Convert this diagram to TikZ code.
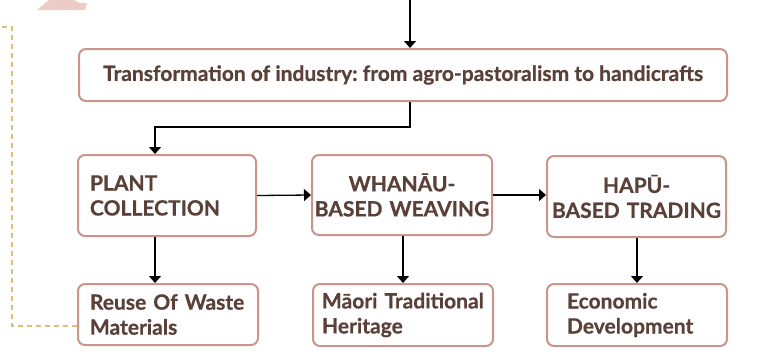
\documentclass[tikz,border=0pt]{standalone}
\usepackage{fontspec}
\setmainfont{Lato}[BoldFeatures={FakeBold=0.6}]
\usetikzlibrary{arrows.meta,calc}
\definecolor{txt}{HTML}{5A4038}
\definecolor{bord}{HTML}{C9958A}
\definecolor{dashc}{HTML}{E0BB80}
\definecolor{blush}{HTML}{EDCCC5}
\frenchspacing
\begin{document}
\begin{tikzpicture}[x=1pt,y=-1pt,
  box/.style={draw=bord, line width=2pt, rounded corners=7pt, fill=white,
    text=txt, font=\fontsize{21}{25}\selectfont\bfseries, inner ysep=0pt},
  arr/.style={draw=black, line width=1.3pt, -{Triangle[width=12pt,length=7pt]}},
  dashline/.style={draw=dashc, line width=1.2pt, dash pattern=on 5pt off 4pt}]
\useasboundingbox (0,0) rectangle (763,360);
\fill[blush] (37,10) -- (44,4) .. controls (47,1) .. (50,0) -- (74,0) .. controls (77,2) .. (80,3) -- (87,3) -- (85,10) -- cycle;

\node[box, minimum width=648pt, minimum height=52pt] (top) at (403,75) {Transformation of industry: from agro-pastoralism to handicrafts};

\node[box, inner xsep=12pt, text width=154pt, align=left, minimum height=81pt] (plant) at (167,195.5) {PLANT\\COLLECTION};
\node[box, inner xsep=1pt, text width=178pt, align=center, minimum height=80pt] (whanau) at (402,195) {WHANĀU-\\BASED WEAVING};
\node[box, inner xsep=1pt, text width=177pt, align=center, minimum height=81pt] (hapu) at (636.5,196.5) {HAPŪ-\\BASED TRADING};

\node[box, inner xsep=12pt, text width=156pt, align=left, minimum height=61pt] (reuse) at (168,314.5) {Reuse Of Waste\\Materials};
\node[box, inner xsep=9pt, text width=162pt, align=left, minimum height=62pt] (maori) at (403,315) {Māori Traditional\\Heritage};
\node[box, inner xsep=20pt, text width=140pt, align=left, minimum height=62pt] (econ) at (637,315) {Economic\\Development};

\coordinate (src) at (410,0);
\coordinate (elbow) at (410,127);
\draw[arr] (src) -- (src |- top.north);
\draw[arr] (src |- top.south) -- (elbow) -| ([xshift=-12pt]plant.north);
\draw[arr] (plant.east) -- (whanau.west);
\draw[arr] (whanau.east) -- (hapu.west |- whanau.east);
\draw[arr] ([xshift=-12pt]plant.south) -- ([xshift=-13pt]reuse.north);
\draw[arr] ([xshift=1pt]whanau.south) -- ([xshift=0pt]maori.north);
\draw[arr] ([xshift=0.5pt]hapu.south) -- (econ.north);

\coordinate (dcorner) at (12,27);
\coordinate (dend) at (0,27);
\draw[dashline] ([yshift=-11.5pt]reuse.west) -| (dcorner) -- (dend);
\end{tikzpicture}
\end{document}
